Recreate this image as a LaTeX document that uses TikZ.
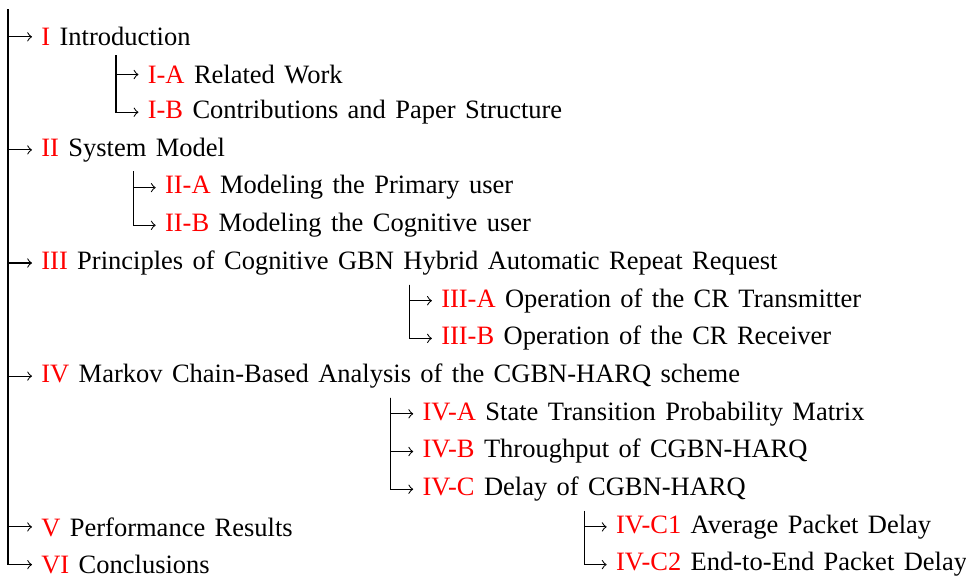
\documentclass[tikz,border=0pt]{standalone}
\usepackage{fontspec}
\setmainfont[WordSpace=1.42]{Liberation Serif}
\begin{document}
\begin{tikzpicture}[x=0.3774pt,y=-0.3774pt,
  sec/.style={anchor=west,inner sep=3.333pt,font=\fontsize{10}{12}\selectfont},
  link/.style={draw=black,line width=0.4pt,->}]
\useasboundingbox (0,0) rectangle (966,576);
\newcommand\lab[1]{\textcolor{red}{#1}}
% root of the outline
\coordinate (root) at (8,9);
% top-level sections, one row every 37.7 units
\node[sec] (s1) at (32,36.8)  {\lab{I} Introduction};
\node[sec] (s2) at (32,149.9) {\lab{II} System Model};
\node[sec] (s3) at (32,263.0) {\lab{III} Principles of Cognitive GBN Hybrid Automatic Repeat Request};
\node[sec] (s4) at (32,376.1) {\lab{IV} Markov Chain-Based Analysis of the CGBN-HARQ scheme};
\node[sec] (s5) at (32,526.9) {\lab{V} Performance Results};
\node[sec] (s6) at (32,564.6) {\lab{VI} Conclusions};
% subsections, hung from the centre of their parent
\path (s1.center) ++(22.5,37.7) node[sec] (s1a) {\lab{I-A} Related Work}
      ++(0,37.7) node[sec] (s1b) {\lab{I-B} Contributions and Paper Structure};
\path (s2.center) ++(22.5,37.7) node[sec] (s2a) {\lab{II-A} Modeling the Primary user}
      ++(0,37.7) node[sec] (s2b) {\lab{II-B} Modeling the Cognitive user};
\path (s3.center) ++(22.5,37.7) node[sec] (s3a) {\lab{III-A} Operation of the CR Transmitter}
      ++(0,37.7) node[sec] (s3b) {\lab{III-B} Operation of the CR Receiver};
\path (s4.center) ++(22.5,37.7) node[sec] (s4a) {\lab{IV-A} State Transition Probability Matrix}
      ++(0,37.7) node[sec] (s4b) {\lab{IV-B} Throughput of CGBN-HARQ}
      ++(0,37.7) node[sec] (s4c) {\lab{IV-C} Delay of CGBN-HARQ};
\path (s4c.center) ++(22.5,37.7) node[sec] (s4c1) {\lab{IV-C1} Average Packet Delay}
      ++(0,37.7) node[sec] (s4c2) {\lab{IV-C2} End-to-End Packet Delay};
% connectors
\foreach \s in {s1,s2,s3,s4,s5,s6}
  \draw[link] (root) |- (\s.west);
\foreach \p/\c in {s1/s1a,s1/s1b,s2/s2a,s2/s2b,s3/s3a,s3/s3b,s4/s4a,s4/s4b,s4/s4c,s4c/s4c1,s4c/s4c2}
  \draw[link] (\p.south) |- (\c.west);
\end{tikzpicture}
\end{document}
